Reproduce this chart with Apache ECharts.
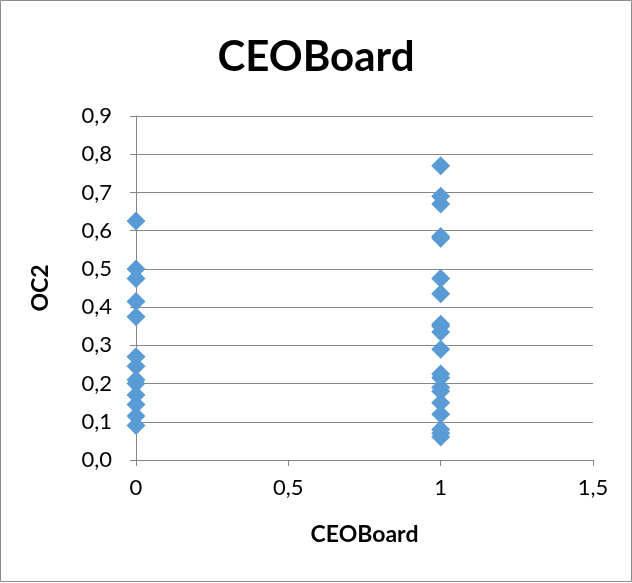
<!DOCTYPE html>
<html>
<head>
<meta charset="utf-8">
<script src="https://cdn.jsdelivr.net/npm/echarts@6/dist/echarts.min.js"></script>
<style>
  html, body { margin: 0; padding: 0; background: #fff; }
  #chart { width: 632px; height: 583px; }
</style>
</head>
<body>
<div id="chart"></div>
<script>
// OC2 observations for firms without (0) and with (1) CEO on board
const ceoBoardNo = 0;
const oc2WhenNo = [0.625, 0.50, 0.475, 0.415, 0.375, 0.27, 0.245, 0.21, 0.20, 0.17, 0.145, 0.115, 0.09];
const ceoBoardYes = 1;
const oc2WhenYes = [0.77, 0.69, 0.67, 0.585, 0.58, 0.475, 0.435, 0.355, 0.35, 0.335, 0.29,
                    0.225, 0.215, 0.19, 0.18, 0.15, 0.12, 0.08, 0.07, 0.06];
const xTicks = [0, 0.5, 1, 1.5];
const yTicks = [0, 0.1, 0.2, 0.3, 0.4, 0.5, 0.6, 0.7, 0.8, 0.9];

const points = oc2WhenNo.map(v => [ceoBoardNo, v])
  .concat(oc2WhenYes.map(v => [ceoBoardYes, v]));

const comma = v => String(v).replace('.', ',');
const font = 'Lato, "Open Sans", sans-serif';
const axisGray = '#868686';

const chart = echarts.init(document.getElementById('chart'), null, { renderer: 'canvas' });
chart.setOption({
  backgroundColor: '#ffffff',
  animation: false,
  title: {
    text: 'CEOBoard',
    left: 'center',
    top: 31,
    padding: [5, 0, 5, 9],
    textStyle: { fontFamily: font, fontSize: 42, fontWeight: 'bold', color: '#000' }
  },
  graphic: [{
    type: 'rect',
    shape: { x: 0.5, y: 0.5, width: 631, height: 581 },
    style: { fill: 'none', stroke: '#8c8c8c', lineWidth: 1 },
    silent: true
  }],
  grid: { left: 136, right: 39, top: 116, bottom: 123 },
  xAxis: {
    type: 'value',
    min: xTicks[0],
    max: xTicks[xTicks.length - 1],
    interval: 0.5,
    name: 'CEOBoard',
    nameLocation: 'middle',
    nameGap: 63,
    nameTextStyle: { fontFamily: font, fontSize: 23, fontWeight: 'bold', color: '#000' },
    axisLine: { show: true, lineStyle: { color: axisGray, width: 1 } },
    axisTick: { show: true, inside: false, length: 6, lineStyle: { color: axisGray } },
    axisLabel: { fontFamily: font, fontSize: 22, color: '#000', margin: 17, formatter: v => comma(v) },
    splitLine: { show: false }
  },
  yAxis: {
    type: 'value',
    min: yTicks[0],
    max: yTicks[yTicks.length - 1],
    interval: 0.1,
    name: 'OC2',
    nameLocation: 'middle',
    nameGap: 84,
    nameRotate: 90,
    nameTextStyle: { fontFamily: font, fontSize: 23, fontWeight: 'bold', color: '#000' },
    axisLine: { show: true, lineStyle: { color: axisGray, width: 1 } },
    axisTick: { show: true, inside: false, length: 6, lineStyle: { color: axisGray } },
    axisLabel: { fontFamily: font, fontSize: 22, color: '#000', margin: 24, formatter: v => v.toFixed(1).replace('.', ',') },
    splitLine: { show: true, lineStyle: { color: axisGray, width: 1 } }
  },
  series: [{
    type: 'scatter',
    data: points,
    symbol: 'diamond',
    symbolSize: 19,
    itemStyle: { color: '#5B9BD5', opacity: 1 }
  }]
});
</script>
</body>
</html>
